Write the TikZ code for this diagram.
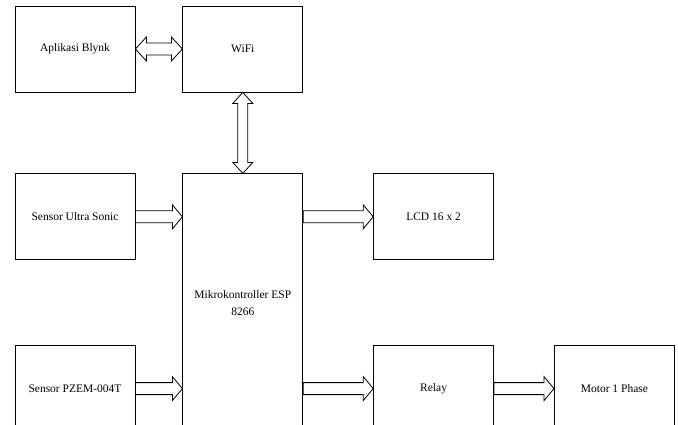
\documentclass[tikz,border=0pt]{standalone}
\usepackage{fontspec}
\setmainfont{Liberation Serif}
\usetikzlibrary{positioning}
\usetikzlibrary{calc}

% hollow block arrow, horizontal, from #1 to #2
\newcommand{\panahkanan}[2]{%
  \draw[blokpanah] ($(#1)+(0,6pt)$) -- ($(#2)+(-10pt,6pt)$) -- ($(#2)+(-10pt,12pt)$)
    -- (#2) -- ($(#2)+(-10pt,-12pt)$) -- ($(#2)+(-10pt,-6pt)$) -- ($(#1)+(0,-6pt)$) -- cycle;}
% hollow double block arrow, horizontal
\newcommand{\panahganda}[2]{%
  \draw[blokpanah] (#1) -- ($(#1)+(11pt,12pt)$) -- ($(#1)+(11pt,6pt)$) -- ($(#2)+(-11pt,6pt)$)
    -- ($(#2)+(-11pt,12pt)$) -- (#2) -- ($(#2)+(-11pt,-12pt)$) -- ($(#2)+(-11pt,-6pt)$)
    -- ($(#1)+(11pt,-6pt)$) -- ($(#1)+(11pt,-12pt)$) -- cycle;}
% hollow double block arrow, vertical (top #1, bottom #2)
\newcommand{\panahtegak}[2]{%
  \draw[blokpanah] (#1) -- ($(#1)+(10pt,-11pt)$) -- ($(#1)+(5pt,-11pt)$) -- ($(#2)+(5pt,11pt)$)
    -- ($(#2)+(10pt,11pt)$) -- (#2) -- ($(#2)+(-10pt,11pt)$) -- ($(#2)+(-5pt,11pt)$)
    -- ($(#1)+(-5pt,-11pt)$) -- ($(#1)+(-10pt,-11pt)$) -- cycle;}

\tikzset{
  blok/.style={draw,line width=0.8pt,minimum width=120pt,minimum height=86pt,
    align=center,inner sep=0pt,
    font=\fontsize{11.5}{17}\selectfont},
  blokpanah/.style={draw,fill=white,line width=0.8pt,line join=miter},
}

\begin{document}
\begin{tikzpicture}
\useasboundingbox (0,0) rectangle (678pt,-424pt);
\clip (0,0) rectangle (678pt,-424pt);

\node[blok] (blynk) at (75pt,-49pt) {Aplikasi Blynk};
\node[blok, right=47pt of blynk] (wifi) {WiFi};
\node[blok, below=81pt of blynk] (ultra) {Sensor Ultra Sonic};
\node[blok, below=85pt of ultra] (pzem) {Sensor PZEM-004T};
\node[blok, minimum height=258pt, below=81pt of wifi] (mcu) {Mikrokontroller ESP\\8266};
\node[blok, right=70pt of mcu.north east, anchor=north west] (lcd) {LCD 16 x 2};
\node[blok, below=85pt of lcd] (relay) {Relay};
\node[blok, right=60pt of relay] (motor) {Motor 1 Phase};

\panahganda{blynk.east}{wifi.west}
\panahtegak{wifi.south}{mcu.north}
\panahkanan{ultra.east}{ultra.east -| mcu.west}
\panahkanan{pzem.east}{pzem.east -| mcu.west}
\panahkanan{lcd.west -| mcu.east}{lcd.west}
\panahkanan{relay.west -| mcu.east}{relay.west}
\panahkanan{relay.east}{motor.west}
\end{tikzpicture}
\end{document}
